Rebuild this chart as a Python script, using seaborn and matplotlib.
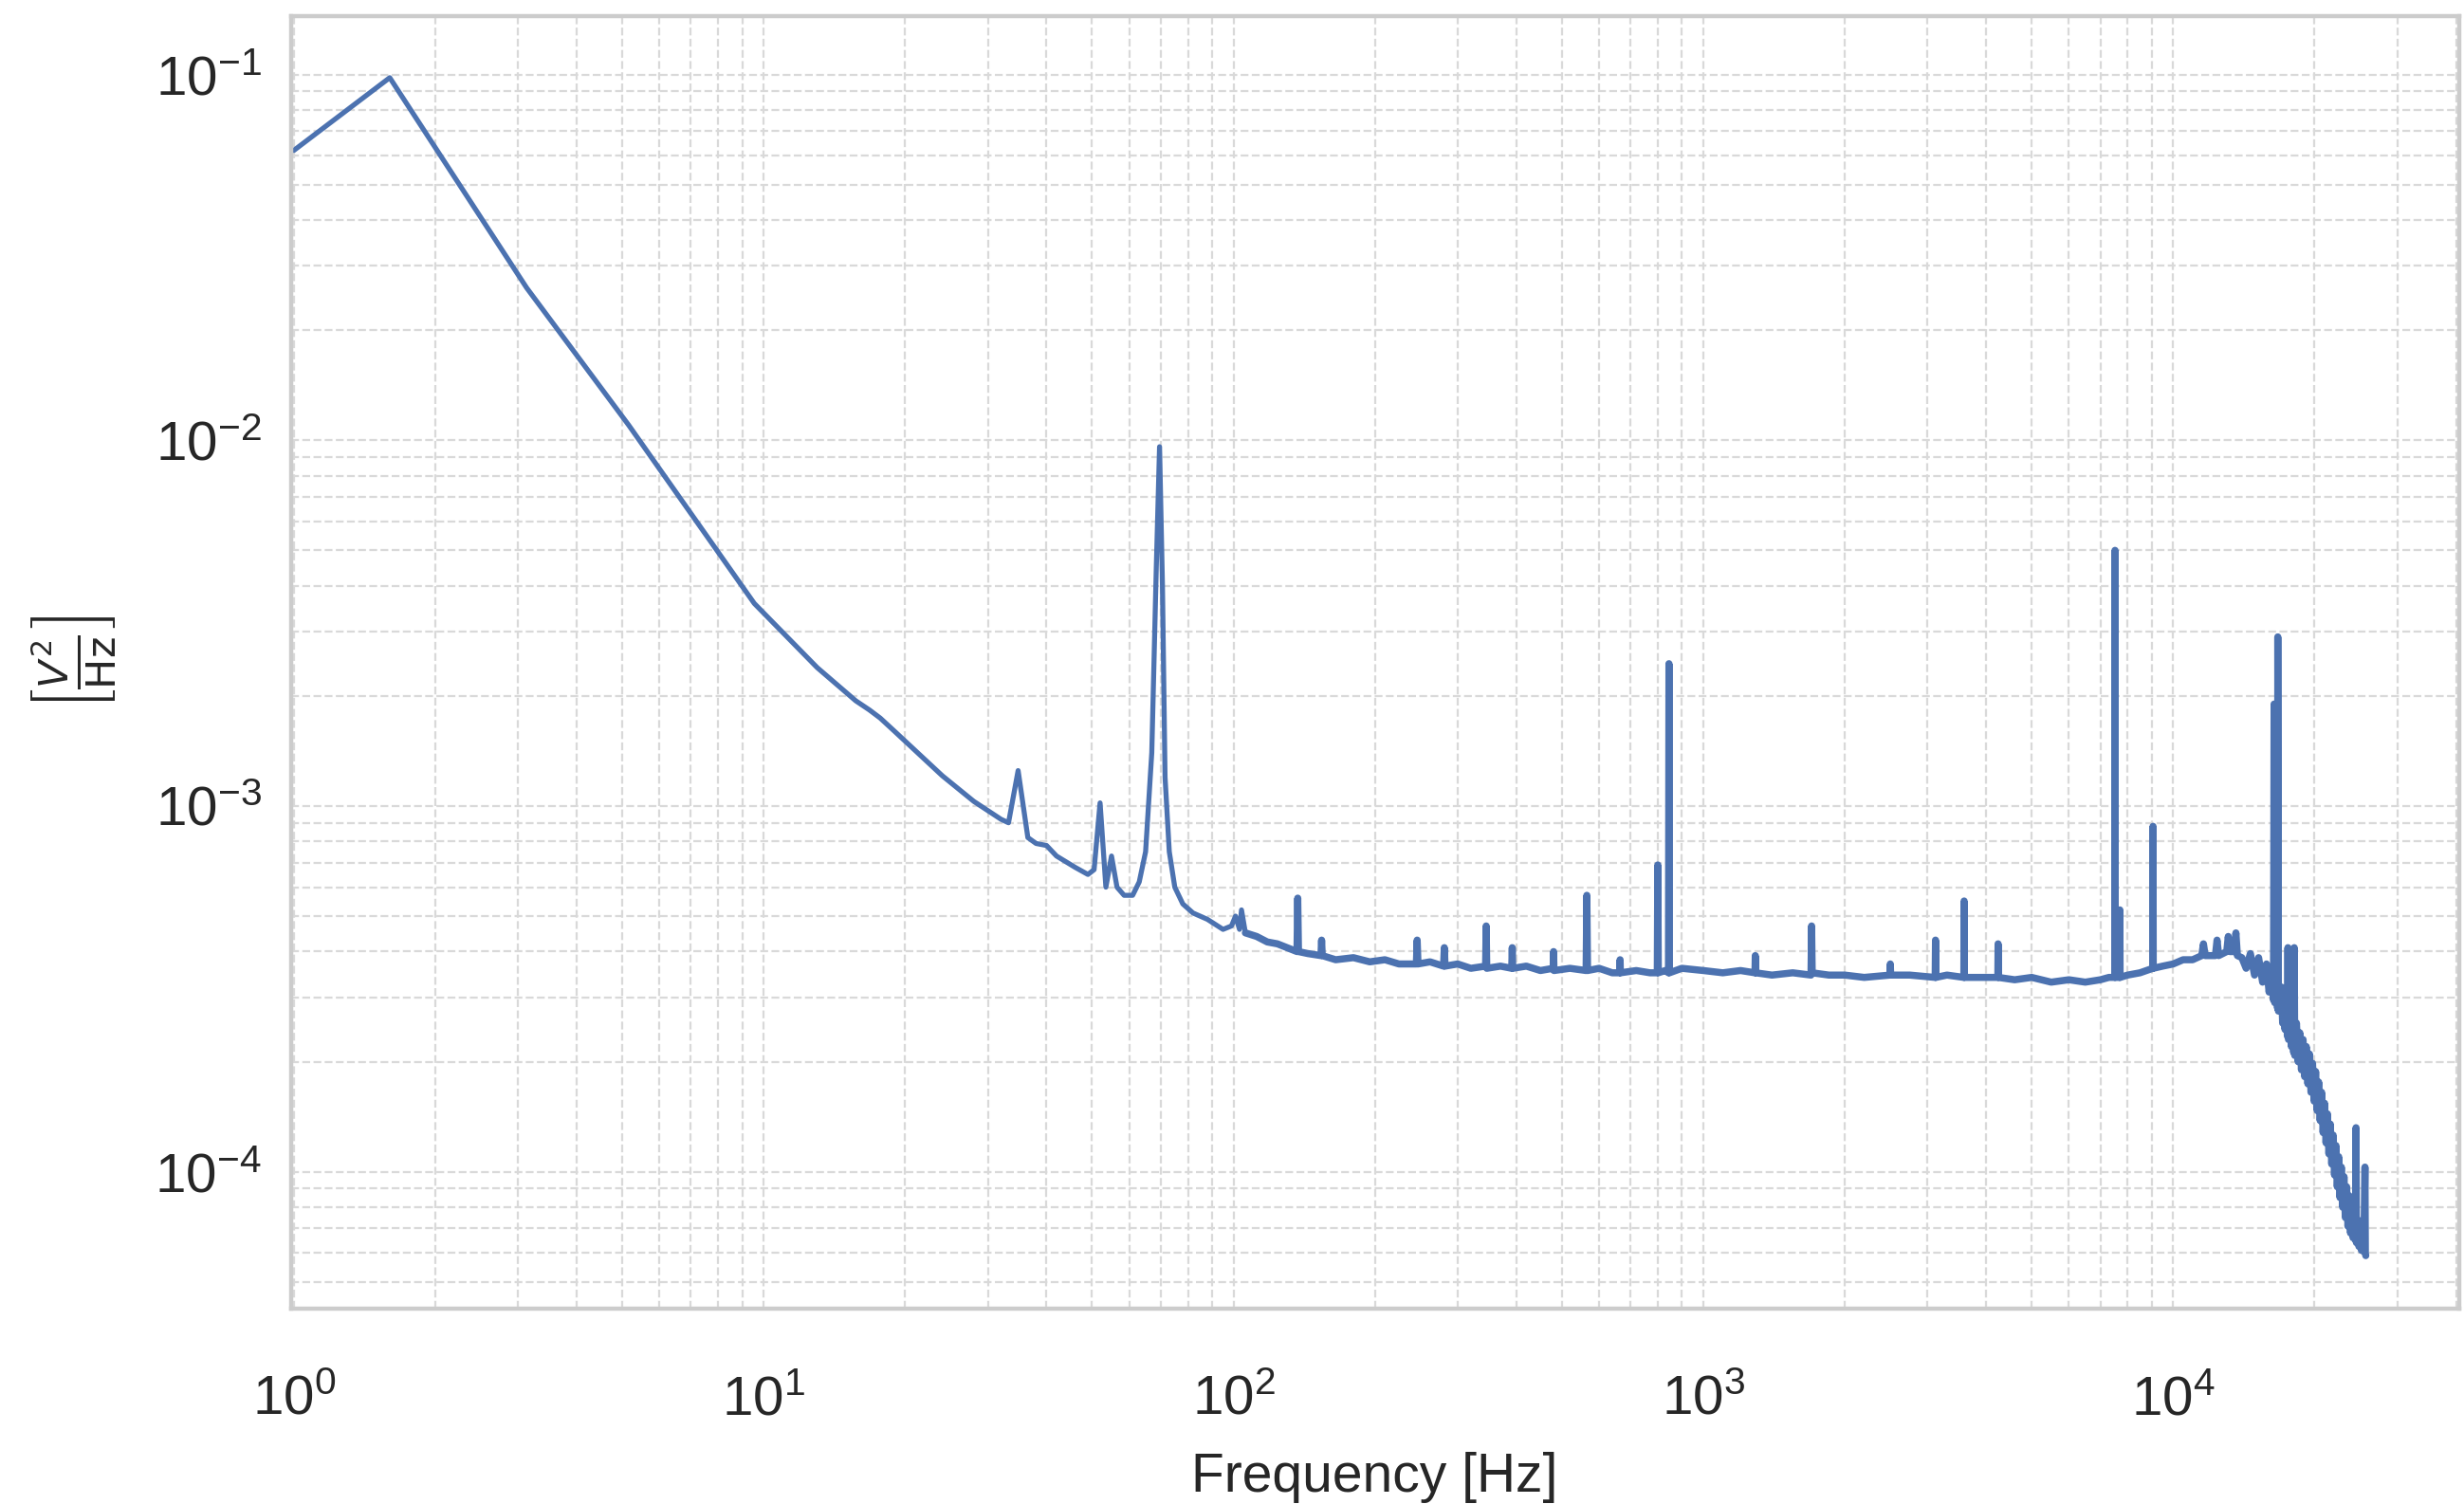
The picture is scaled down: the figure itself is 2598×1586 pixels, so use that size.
import matplotlib
matplotlib.use("Agg")
import matplotlib.pyplot as plt
import seaborn as sns
import pandas as pd

sns.set_theme(style="whitegrid")
plt.rcParams["font.family"] = ["Liberation Sans", "DejaVu Sans"]

# ------------------------------
# Power spectral density
# ------------------------------
freq_low = [1.0, 1.6, 3.13, 5.16, 9.55, 13.0, 15.7, 16.8, 17.7, 19.0, 24.0, 28.0, 32.0]
psd_low = [0.062, 0.098, 0.0261, 0.0110, 0.00358, 0.00239, 0.00194, 0.00183, 0.00174,
           0.00160, 0.00121, 0.00103, 0.00092]

# peaks between 30 and 110 Hz
freq_mid = [33.2, 34.8, 36.5, 38.0, 40.0, 42.0, 46.0, 49.0, 50.5, 52.0, 53.5, 55.0, 56.5,
            58.5, 61.0, 63.0, 65.0, 67.0, 68.5, 69.6, 70.6, 71.5, 73.0, 75.0, 78.0, 82.0,
            88.0, 95.0, 99.0, 101.0, 103.0, 104.0, 106.0]
psd_mid = [0.00090, 0.00125, 0.00082, 0.00079, 0.00078, 0.00073, 0.00068, 0.00065, 0.00067,
           0.00102, 0.00060, 0.00073, 0.00060, 0.00057, 0.00057, 0.00062, 0.00075, 0.0014,
           0.0045, 0.0096, 0.0040, 0.0012, 0.00075, 0.00060, 0.00054, 0.00051, 0.00049,
           0.00046, 0.00047, 0.00050, 0.00046, 0.00052, 0.00045]

# flat floor with narrow lines, 110 Hz - 14 kHz (frequency, psd)
flat_points = [
    (106, 0.00045), (112, 0.00044), (118, 0.000425), (124, 0.00042), (130, 0.00041),
    (136.5, 0.00040), (137.0, 0.00056), (137.5, 0.00040), (144, 0.000395),
    (153.5, 0.00039), (154.0, 0.00043), (154.5, 0.00039), (165, 0.00038),
    (180, 0.000385), (195, 0.000375), (210, 0.00038), (225, 0.00037),
    (245, 0.00037), (246, 0.00043), (247, 0.00037), (262, 0.000375),
    (280, 0.000365), (281, 0.00041), (282, 0.000365), (300, 0.00037),
    (320, 0.00036), (344, 0.000365), (345, 0.00047), (346, 0.00036),
    (370, 0.000365), (391, 0.00036), (392, 0.00041), (393, 0.00036),
    (420, 0.000365), (450, 0.000355), (479, 0.00036), (480, 0.00040),
    (481, 0.000355), (520, 0.00036), (563, 0.000355), (565, 0.00057),
    (567, 0.000355), (600, 0.00036), (640, 0.00035), (664, 0.00035),
    (665, 0.00038), (666, 0.00035), (720, 0.000355), (770, 0.00035),
    (798, 0.00035), (800, 0.00069), (802, 0.00035), (830, 0.000355),
    (843, 0.00035), (845, 0.00245), (847, 0.00035), (900, 0.00036),
    (1000, 0.000355), (1100, 0.00035), (1200, 0.000355), (1288, 0.00035),
    (1290, 0.00039), (1292, 0.00035), (1400, 0.000345), (1550, 0.00035),
    (1695, 0.000345), (1700, 0.00047), (1705, 0.00035), (1850, 0.000345),
    (2000, 0.000345), (2200, 0.00034), (2495, 0.000345), (2500, 0.00037),
    (2505, 0.000345), (2750, 0.000345), (3115, 0.00034), (3120, 0.00043),
    (3125, 0.00034), (3300, 0.000345), (3585, 0.00034), (3590, 0.00055),
    (3595, 0.00034), (3900, 0.00034), (4235, 0.00034), (4240, 0.00042),
    (4245, 0.00034), (4600, 0.000335), (5000, 0.00034), (5500, 0.00033),
    (6000, 0.000335), (6500, 0.00033), (7000, 0.000335), (7300, 0.00034),
    (7510, 0.00034), (7520, 0.0050), (7530, 0.00034), (7600, 0.00034),
    (7690, 0.00034), (7700, 0.00052), (7710, 0.00034), (8000, 0.000345),
    (8500, 0.00035), (9050, 0.00036), (9060, 0.00088), (9070, 0.00036),
    (9500, 0.000365), (10000, 0.00037), (10500, 0.00038), (11000, 0.00038),
    (11500, 0.00039), (11600, 0.00042), (11700, 0.00039), (12300, 0.00039),
    (12400, 0.00043), (12500, 0.00039), (13000, 0.00040), (13100, 0.00044),
    (13200, 0.00040), (13500, 0.00040), (13600, 0.00045), (13700, 0.00039),
]

# anti-alias roll-off (noisy band, upper and lower edge alternate)
tail_points = [
    (14000, 0.000385), (14300, 0.00036), (14600, 0.000395), (14900, 0.000345),
    (15200, 0.000385), (15500, 0.00033), (15800, 0.00037), (16000, 0.00031),
    (16200, 0.000345), (16350, 0.000295), (16400, 0.0019), (16450, 0.00029),
    (16600, 0.00033), (16680, 0.00028), (16700, 0.0029), (16750, 0.000275),
    (17000, 0.00032), (17100, 0.000255), (17200, 0.000305), (17300, 0.000245),
    (17400, 0.000295), (17500, 0.000235), (17550, 0.00041), (17600, 0.00023),
    (17700, 0.00028), (17850, 0.00022), (17950, 0.00027), (18050, 0.000212),
    (18100, 0.00041), (18150, 0.000208), (18300, 0.000255), (18450, 0.00020),
    (18600, 0.00024), (18750, 0.00019), (18900, 0.00023), (19050, 0.000182),
    (19200, 0.00022), (19350, 0.000174), (19500, 0.00021), (19650, 0.000165),
    (19800, 0.000198), (19950, 0.000156), (20100, 0.000188), (20250, 0.000147),
    (20400, 0.000176), (20550, 0.000138), (20700, 0.000165), (20850, 0.000128),
    (21000, 0.000154), (21150, 0.000120), (21300, 0.000144), (21450, 0.000112),
    (21600, 0.000135), (21750, 0.000105), (21900, 0.000126), (22050, 0.000098),
    (22200, 0.000118), (22350, 0.000091), (22500, 0.000110), (22650, 0.000085),
    (22800, 0.000103), (22950, 0.000080), (23100, 0.000097), (23250, 0.000075),
    (23400, 0.000091), (23550, 0.000071), (23700, 0.000086), (23850, 0.000068),
    (24000, 0.000082), (24150, 0.000066), (24300, 0.000078), (24450, 0.000065),
    (24500, 0.000132), (24550, 0.000064), (24700, 0.000074), (24850, 0.0000625),
    (25000, 0.000071), (25150, 0.000061), (25300, 0.000069), (25450, 0.0000605),
    (25600, 0.000103), (25650, 0.000060), (25700, 0.000059),
]

df_slope = pd.DataFrame({"freq": freq_low + freq_mid, "psd": psd_low + psd_mid})
df_floor = pd.DataFrame(flat_points + tail_points, columns=["freq", "psd"])

# ------------------------------
# Plot
# ------------------------------
fig = plt.figure(figsize=(12.99, 7.93), dpi=200)
ax = fig.add_axes([0.118, 0.130, 0.880, 0.859])

# noisy floor reads as a thicker trace than the smooth low-frequency slope
sns.lineplot(data=df_slope, x="freq", y="psd", estimator=None, sort=False,
             color="#4C72B0", linewidth=1.9, ax=ax)
sns.lineplot(data=df_floor, x="freq", y="psd", estimator=None, sort=False,
             color="#4C72B0", linewidth=2.7, ax=ax)

ax.set_xscale("log")
ax.set_yscale("log")
ax.set_xlim(0.985, 40600)
ax.set_ylim(4.23e-5, 0.144)

ax.grid(True, which="both", linestyle="--", color="0.85", linewidth=0.8)
for s in ax.spines.values():
    s.set_color("0.8")
    s.set_linewidth(1.6)

ax.tick_params(axis="both", which="both", length=0, labelsize=21, labelcolor="0.15")
ax.tick_params(axis="x", pad=25)
ax.tick_params(axis="y", pad=11)
ax.set_xlabel("Frequency [Hz]", fontsize=20.5, color="0.15", labelpad=10)
ax.set_ylabel(r"$\left[\frac{V^2}{\mathrm{Hz}}\right]$", fontsize=22, color="0.15",
              labelpad=14)

fig.savefig("out.png", dpi=200)
